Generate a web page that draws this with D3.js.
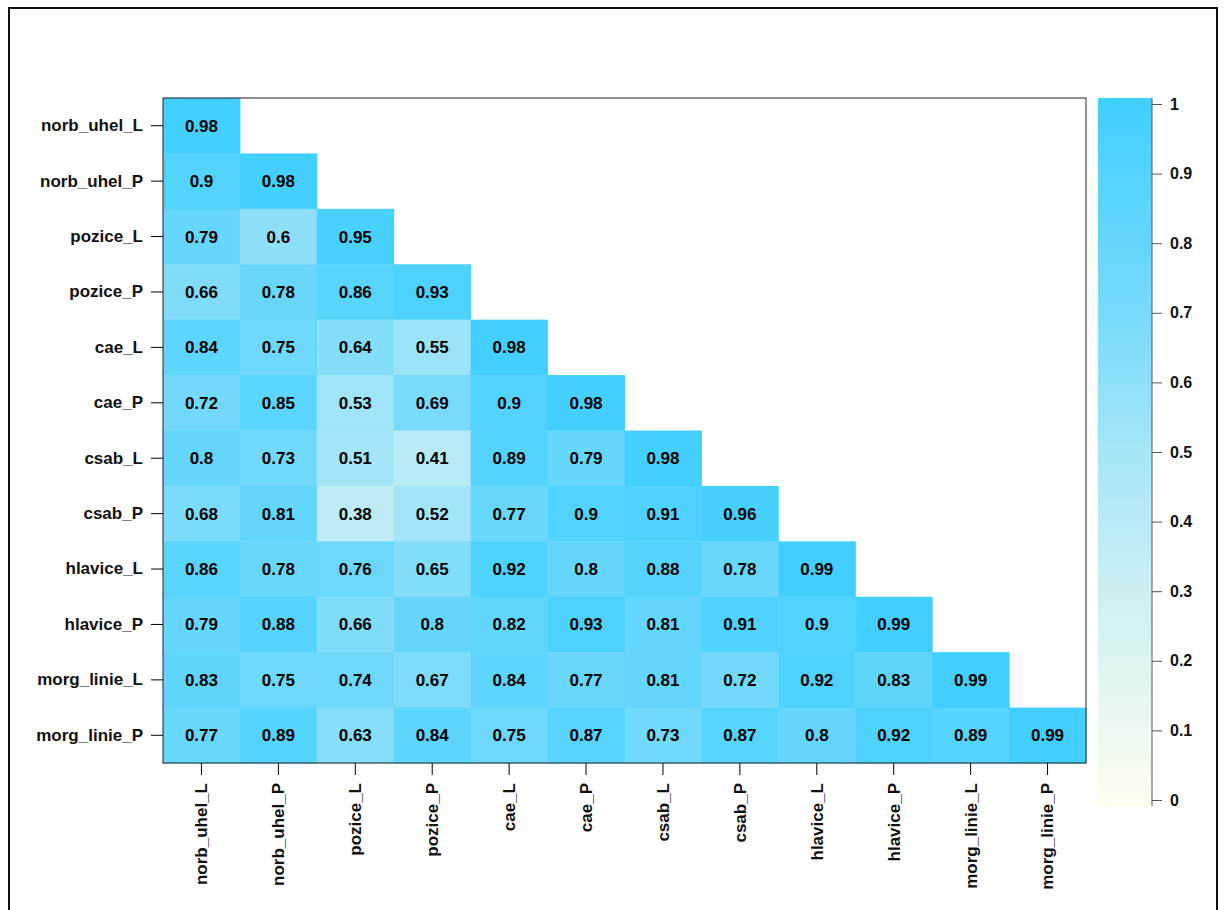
<!DOCTYPE html>
<html><head><meta charset="utf-8">
<script src="https://cdn.jsdelivr.net/npm/d3@7"></script>
<style>body{margin:0;background:#fff}svg{font-family:"Liberation Sans",Arial,sans-serif;font-weight:bold}</style>
</head><body><svg id="c" width="1226" height="910"></svg>
<script>
var vars = ["norb_uhel_L","norb_uhel_P","pozice_L","pozice_P","cae_L","cae_P","csab_L","csab_P","hlavice_L","hlavice_P","morg_linie_L","morg_linie_P"];
var rows = [
  [0.98],
  [0.9,0.98],
  [0.79,0.6,0.95],
  [0.66,0.78,0.86,0.93],
  [0.84,0.75,0.64,0.55,0.98],
  [0.72,0.85,0.53,0.69,0.9,0.98],
  [0.8,0.73,0.51,0.41,0.89,0.79,0.98],
  [0.68,0.81,0.38,0.52,0.77,0.9,0.91,0.96],
  [0.86,0.78,0.76,0.65,0.92,0.8,0.88,0.78,0.99],
  [0.79,0.88,0.66,0.8,0.82,0.93,0.81,0.91,0.9,0.99],
  [0.83,0.75,0.74,0.67,0.84,0.77,0.81,0.72,0.92,0.83,0.99],
  [0.77,0.89,0.63,0.84,0.75,0.87,0.73,0.87,0.8,0.92,0.89,0.99]
];
var legendTicks = [0,0.1,0.2,0.3,0.4,0.5,0.6,0.7,0.8,0.9,1];

var svg = d3.select("#c");
svg.append("rect").attr("x",9).attr("y",8).attr("width",1208).attr("height",920)
  .attr("fill","none").attr("stroke","#111").attr("stroke-width",2);

var x = d3.scaleBand().domain(vars).range([163,1086]);
var y = d3.scaleBand().domain(vars).range([98,763]);
var color = d3.scaleLinear().domain([0,0.3,0.5,0.7,1])
  .range(["#fffdf0","#cdf0f2","#a6e6f7","#76dafa","#40cfff"]);

var cells = [];
rows.forEach((r,i) => r.forEach((v,j) => cells.push({r:vars[i],c:vars[j],v:v})));
var g = svg.append("g");
g.selectAll("rect").data(cells).enter().append("rect")
  .attr("x",d=>x(d.c)).attr("y",d=>y(d.r))
  .attr("width",x.bandwidth()+0.5).attr("height",y.bandwidth()+0.5)
  .attr("fill",d=>color(d.v));
g.selectAll("text").data(cells).enter().append("text")
  .attr("x",d=>x(d.c)+x.bandwidth()/2).attr("y",d=>y(d.r)+y.bandwidth()/2+6)
  .attr("text-anchor","middle").attr("font-size",17).text(d=>d.v);

svg.append("rect").attr("x",163).attr("y",98).attr("width",923).attr("height",665)
  .attr("fill","none").attr("stroke","#222").attr("stroke-width",1);

var yAx = svg.append("g").attr("transform","translate(163,0)")
  .call(d3.axisLeft(y).tickSize(12).tickPadding(8));
yAx.select(".domain").remove();
yAx.selectAll("text").attr("font-size",17).attr("font-family","Liberation Sans, Arial").attr("font-weight","bold").attr("fill","#111");

var xAx = svg.append("g").attr("transform","translate(0,763)")
  .call(d3.axisBottom(x).tickSize(12).tickPadding(8));
xAx.select(".domain").remove();
xAx.selectAll("text").attr("font-size",17).attr("font-family","Liberation Sans, Arial").attr("font-weight","bold").attr("fill","#111")
  .attr("text-anchor","end").attr("transform","rotate(-90)").attr("dx","-20").attr("dy","0.35em").attr("x",0).attr("y",0);

// colour legend
var defs = svg.append("defs");
var grad = defs.append("linearGradient").attr("id","gr").attr("x1",0).attr("y1",1).attr("x2",0).attr("y2",0);
legendTicks.forEach(t => grad.append("stop").attr("offset",t).attr("stop-color",color(t)));
var ly = d3.scaleLinear().domain([0,1]).range([800,104]);
svg.append("rect").attr("x",1098).attr("y",98).attr("width",54).attr("height",708).attr("fill","url(#gr)");
var lAx = svg.append("g").attr("transform","translate(1152,0)")
  .call(d3.axisRight(ly).tickValues(legendTicks).tickSize(10).tickPadding(8).tickFormat(d3.format("")));
lAx.select(".domain").attr("stroke","#555").attr("d","M0,98V806");
lAx.selectAll("line").attr("stroke","#555");
lAx.selectAll("text").attr("font-size",16).attr("font-family","Liberation Sans, Arial").attr("font-weight","bold").attr("fill","#111");
</script></body></html>
